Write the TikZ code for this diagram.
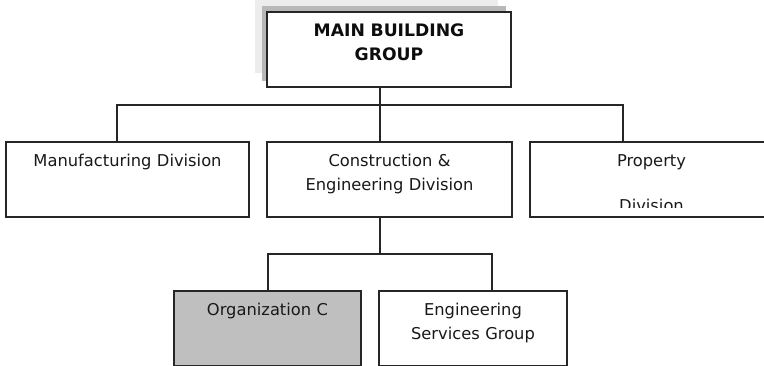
\documentclass[tikz,border=0pt]{standalone}
\usepackage{fontspec}
\setmainfont{DejaVu Sans}
\begin{document}
\begin{tikzpicture}[x=1pt,y=-1pt,
  box/.style={draw=black!85, line width=1.3pt, fill=white, inner sep=0pt, outer sep=0pt},
  conn/.style={draw=black!85, line width=1.3pt},
  lbl/.style={font=\fontsize{16.3}{23.5}\selectfont, align=center, text width=236pt, anchor=base, inner sep=0pt, text=black!90},
  blbl/.style={font=\fontsize{17.2}{24}\selectfont\bfseries, align=center, text width=236pt, anchor=base, inner sep=0pt, text=black!95}]
\clip (0,0) rectangle (764,366);
\fill[white] (0,0) rectangle (764,366);
% shadows behind main box
\fill[black!7] (255,0) rectangle (498,73);
\fill[black!28] (262,6) rectangle (506,81);
% boxes
\node[box, minimum width=244pt, minimum height=75pt] (main) at (389,49.5) {};
\node[box, minimum width=243pt, minimum height=75pt] (man) at (127.5,179.5) {};
\node[box, minimum width=245pt, minimum height=75pt] (con) at (389.5,179.5) {};
\node[box, minimum width=243pt, minimum height=75pt] (prop) at (651.5,179.5) {};
\node[box, fill=black!25, minimum width=187pt, minimum height=75pt] (orgc) at (267.5,328.5) {};
\node[box, minimum width=188pt, minimum height=75pt] (eng) at (473,328.5) {};
% junction coordinates
\coordinate (t1) at (380,105);
\coordinate (tl) at (117,105);
\coordinate (tr) at (623,105);
\coordinate (b1) at (380,254);
\coordinate (bl) at (268,254);
\coordinate (br) at (492,254);
% connectors
\draw[conn] (main.south -| t1) -- (con.north -| t1);
\draw[conn] (tl |- man.north) -- (tl) -- (tr) -- (tr |- prop.north);
\draw[conn] (con.south -| b1) -- (b1);
\draw[conn] (bl |- orgc.north) -- (bl) -- (br) -- (br |- eng.north);
% labels
\node[blbl] (mainlbl) at ([yshift=-25pt]main.north) {MAIN BUILDING\\GROUP};
\node[lbl] (manlbl) at ([yshift=-25pt]man.north) {Manufacturing Division};
\node[lbl] (conlbl) at ([yshift=-25pt]con.north) {Construction \&\\Engineering Division};
\begin{scope}
\clip (530,142) rectangle (773,208);
\node[lbl] (proplbl) at ([yshift=-25pt]prop.north) {Property\\[21.5pt]Division};
\end{scope}
\node[lbl, text width=180pt] (orgclbl) at ([yshift=-25pt]orgc.north) {Organization C};
\node[lbl, text width=180pt] (englbl) at ([yshift=-25pt]eng.north) {Engineering\\Services Group};
\end{tikzpicture}
\end{document}
